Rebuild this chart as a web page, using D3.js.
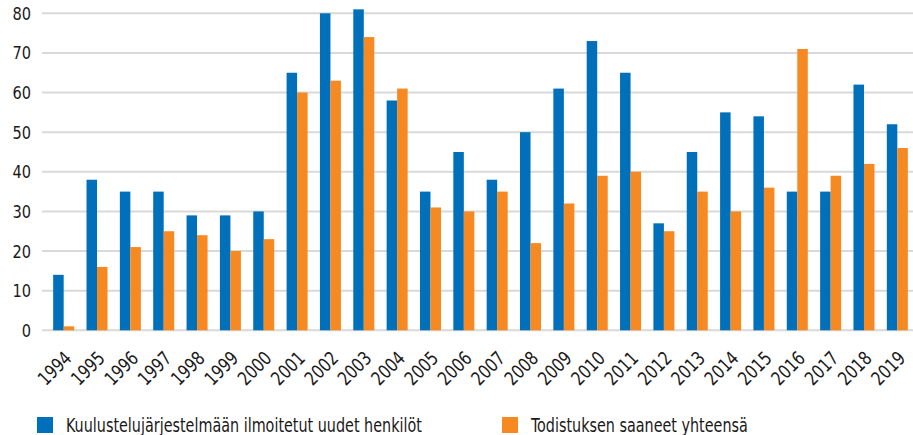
<!DOCTYPE html>
<html>
<head>
<meta charset="utf-8">
<script src="https://cdn.jsdelivr.net/npm/d3@7"></script>
<style>
  body { margin: 0; background: #fff; }
  svg text { font-family: "DejaVu Sans Condensed", "DejaVu Sans", sans-serif; font-stretch: condensed; fill: #1a1a1a; }
</style>
</head>
<body>
<svg id="chart" width="913" height="435"></svg>
<script>
var years = ['1994','1995','1996','1997','1998','1999','2000','2001','2002','2003','2004','2005','2006',
             '2007','2008','2009','2010','2011','2012','2013','2014','2015','2016','2017','2018','2019'];
var reported = [14, 38, 35, 35, 29, 29, 30, 65, 80, 81, 58, 35, 45, 38, 50, 61, 73, 65, 27, 45, 55, 54, 35, 35, 62, 52];
var certified = [1, 16, 21, 25, 24, 20, 23, 60, 63, 74, 61, 31, 30, 35, 22, 32, 39, 40, 25, 35, 30, 36, 71, 39, 42, 46];
var seriesNames = ['Kuulustelujärjestelmään ilmoitetut uudet henkilöt', 'Todistuksen saaneet yhteensä'];
var colors = ['#0070ba', '#f68921'];
var yTicks = [0, 10, 20, 30, 40, 50, 60, 70, 80];

// squeeze text horizontally to mimic the narrow font of the original
function narrow(sel, k) {
    sel.each(function() {
        var w = this.getComputedTextLength();
        d3.select(this).attr('textLength', w * k).attr('lengthAdjust', 'spacingAndGlyphs');
    });
}

function drawChart() {
    var svg = d3.select('#chart');
    var plotLeft = 42, plotRight = 913, plotTop = 13.3, plotBottom = 330.3;

    var x0 = d3.scaleBand().domain(years).range([47, 914]).paddingInner(0.37).paddingOuter(0.185);
    var x1 = d3.scaleBand().domain([0, 1]).range([0, x0.bandwidth()]);
    var y = d3.scaleLinear().domain([0, 80]).range([plotBottom, plotTop]);

    // gridlines
    svg.append('g')
        .selectAll('line')
        .data(yTicks)
        .enter().append('line')
        .attr('x1', plotLeft).attr('x2', plotRight)
        .attr('y1', function(d) { return y(d); })
        .attr('y2', function(d) { return y(d); })
        .attr('stroke', '#d9d9d9')
        .attr('stroke-width', 2);

    // y labels
    svg.append('g')
        .selectAll('text')
        .data(yTicks)
        .enter().append('text')
        .attr('x', 31)
        .attr('y', function(d) { return y(d); })
        .attr('dy', '0.36em')
        .attr('text-anchor', 'end')
        .style('font-size', '18px')
        .text(function(d) { return d; })
        .call(narrow, 0.9);

    // bars
    var groups = svg.append('g')
        .selectAll('g')
        .data(years)
        .enter().append('g')
        .attr('transform', function(d) { return 'translate(' + x0(d) + ',0)'; });

    groups.selectAll('rect')
        .data(function(d, i) { return [reported[i], certified[i]]; })
        .enter().append('rect')
        .attr('x', function(d, j) { return x1(j); })
        .attr('width', x1.bandwidth())
        .attr('y', function(d) { return y(d); })
        .attr('height', function(d) { return plotBottom - y(d); })
        .attr('fill', function(d, j) { return colors[j]; });

    // x labels
    svg.append('g')
        .selectAll('text')
        .data(years)
        .enter().append('text')
        .attr('transform', function(d) {
            return 'translate(' + (x0(d) + x0.bandwidth() / 2 - 1) + ',' + (plotBottom + 19) + ') rotate(-45)';
        })
        .attr('text-anchor', 'end')
        .attr('dy', '0.75em')
        .style('font-size', '19px')
        .text(function(d) { return d; })
        .call(narrow, 0.88);

    // legend
    var legendX = [37, 502];
    var legend = svg.append('g')
        .selectAll('g')
        .data(seriesNames)
        .enter().append('g')
        .attr('transform', function(d, i) { return 'translate(' + legendX[i] + ',417)'; });
    legend.append('rect')
        .attr('width', 16).attr('height', 16)
        .attr('fill', function(d, i) { return colors[i]; });
    legend.append('text')
        .attr('x', 29).attr('y', 8)
        .attr('dy', '0.36em')
        .style('font-size', '19px')
        .text(function(d) { return d; })
        .call(narrow, 0.84);
}

drawChart();
</script>
</body>
</html>
